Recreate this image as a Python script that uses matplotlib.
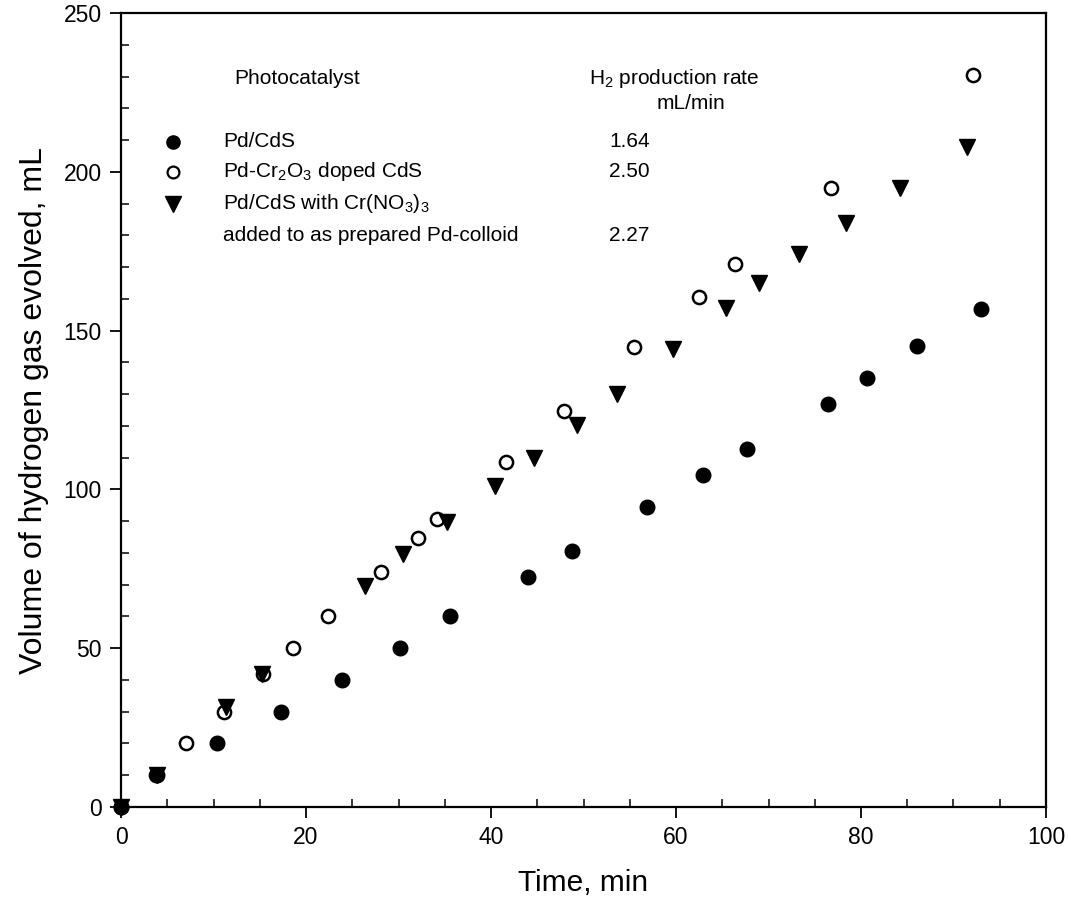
import matplotlib
matplotlib.use("Agg")
import matplotlib.pyplot as plt
from matplotlib.ticker import MultipleLocator

plt.rcParams['font.family'] = ['Liberation Sans', 'DejaVu Sans']
plt.rcParams['mathtext.fontset'] = 'custom'
plt.rcParams['mathtext.rm'] = 'Liberation Sans'

# Pd/CdS (filled circles)
pd_cds_t = [0, 3.9, 10.4, 17.3, 23.9, 30.2, 35.6, 44.0, 48.8, 56.9, 62.9, 67.7, 76.4, 80.7, 86.1, 93.0]
pd_cds_v = [0, 10, 20, 30, 40, 50, 60, 72.5, 80.5, 94.6, 104.5, 112.7, 127, 135, 145, 156.7]

# Pd-Cr2O3 doped CdS (open circles)
pd_cr_t = [0, 3.8, 7.0, 11.1, 15.4, 18.6, 22.4, 28.1, 32.1, 34.2, 41.6, 47.9, 55.5, 62.5, 66.4, 76.8, 92.1]
pd_cr_v = [0, 10, 20, 30, 42, 50, 60, 74.1, 84.8, 90.6, 108.7, 124.7, 144.7, 160.7, 171, 195, 230.5]

# Pd/CdS with Cr(NO3)3 (filled down triangles)
pd_no3_t = [0, 3.9, 11.4, 15.2, 26.4, 30.5, 35.2, 40.4, 44.6, 49.3, 53.6, 59.7, 65.4, 69.0, 73.3, 78.4, 84.2, 91.5]
pd_no3_v = [0, 10, 31.6, 41.8, 69.5, 79.7, 89.8, 101, 110, 120.3, 130, 144.1, 157, 165.1, 174.1, 184, 194.8, 207.9]

legend_names = ["Pd/CdS", r"Pd-Cr$_2$O$_3$ doped CdS", r"Pd/CdS with Cr(NO$_3$)$_3$",
                "added to as prepared Pd-colloid"]
legend_rates = ["1.64", "2.50", "", "2.27"]

fig = plt.figure(figsize=(10.68, 9.09), dpi=100)
ax = fig.add_axes([0.1133, 0.1122, 0.8661, 0.8735])

ax.plot(pd_cr_t, pd_cr_v, 'o', markerfacecolor='white', markeredgecolor='black',
        markeredgewidth=1.8, markersize=9.5, linestyle='none', zorder=2, clip_on=False)
ax.plot(pd_cds_t, pd_cds_v, 'o', color='black', markersize=10.5, linestyle='none',
        zorder=3, clip_on=False)
ax.plot(pd_no3_t, pd_no3_v, 'v', color='black', markersize=12, linestyle='none',
        zorder=4, clip_on=False)

ax.set_xlim(0, 100)
ax.set_ylim(0, 250)
ax.xaxis.set_major_locator(MultipleLocator(20))
ax.xaxis.set_minor_locator(MultipleLocator(5))
ax.yaxis.set_major_locator(MultipleLocator(50))
ax.yaxis.set_minor_locator(MultipleLocator(10))
ax.tick_params(which='major', direction='out', length=8, width=1.3, labelsize=16.5, pad=6,
               top=False, right=False)
ax.tick_params(which='minor', direction='in', length=6, width=1.1, top=False, right=False)
for s in ax.spines.values():
    s.set_linewidth(1.6)

ax.set_xlabel("Time, min", fontsize=21.5, labelpad=14)
ax.set_ylabel("Volume of hydrogen gas evolved, mL", fontsize=23, labelpad=10)

fs = 15
ax.text(12.2, 229.5, "Photocatalyst", fontsize=fs, va='center', ha='left')
ax.text(59.8, 229.5, r"H$_2$ production rate", fontsize=fs, va='center', ha='center')
ax.text(61.6, 221.5, "mL/min", fontsize=fs, va='center', ha='center')

ys = [209.4, 200.0, 190.0, 180.0]
ax.plot([5.6], [ys[0]], 'o', color='black', markersize=9.5)
ax.plot([5.6], [ys[1]], 'o', markerfacecolor='white', markeredgecolor='black',
        markeredgewidth=1.6, markersize=8.5)
ax.plot([5.6], [ys[2]], 'v', color='black', markersize=11)
for y, name, rate in zip(ys, legend_names, legend_rates):
    ax.text(11.0, y, name, fontsize=fs, va='center', ha='left')
    if rate:
        ax.text(52.8, y, rate, fontsize=fs, va='center', ha='left')

fig.savefig("out.png", dpi=100)
